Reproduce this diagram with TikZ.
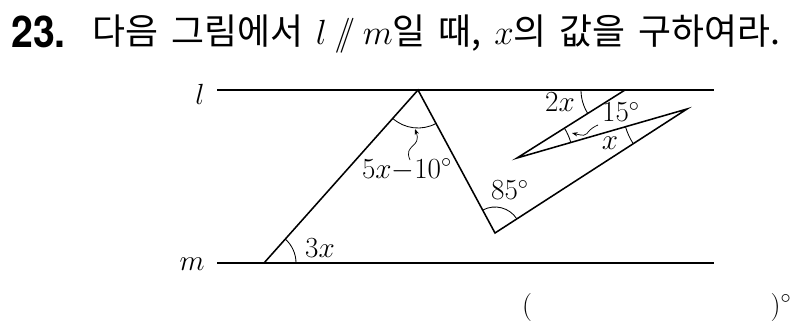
\documentclass[tikz,border=0pt]{standalone}
\usepackage{fontspec}
\usepackage{amsmath}
\newfontfamily\krfont[WordSpace=1.6]{Noto Sans CJK KR}
\newfontfamily\numfont{TeX Gyre Heros}
\usetikzlibrary{arrows.meta,angles,positioning}

\begin{document}
\begin{tikzpicture}[x=0.025cm, y=0.025cm, >={Stealth[length=4pt,width=3pt]},
  lbl/.style={font=\fontsize{20}{24}\selectfont, inner sep=0pt},
  ang/.style={draw, line width=0.6pt},
  seg/.style={line width=1.1pt}]
  \useasboundingbox (0,0) rectangle (800,324);
  % Question
  \node[anchor=base west, inner sep=0pt, font=\numfont\bfseries\fontsize{31}{34}\selectfont] (num) at (11,277) {\scalebox{0.9}[1]{23.}};
  \node[anchor=base west, inner sep=0pt, font=\krfont\fontsize{25.5}{30}\selectfont] (qtext) at (92,280)
    {다음 그림에서 $l\mathbin{/\!\!/}m$일 때, $x$의 값을 구하여라.};
  % Points
  \coordinate (L1) at (217,234); \coordinate (L2) at (714,234);
  \coordinate (M1) at (217,61);  \coordinate (M2) at (714,61);
  \coordinate (A) at (264,61);
  \coordinate (B) at (418,234);
  \coordinate (C) at (495,91);
  \coordinate (D) at (687,215);
  \coordinate (E) at (517,166);
  \coordinate (F) at (625,234);
  % Parallel lines
  \draw[seg] (L1) -- (L2);
  \draw[seg] (M1) -- (M2);
  \node[lbl] (ll) at (200,230) {$l$};
  \node[lbl] (mm) at (192,60) {$m$};
  % Zigzag
  \draw[seg, line join=miter] (A) -- (B) -- (C) -- (D) -- (E) -- (F);
  % Angles
  \pic[ang, angle radius=0.8cm] {angle = M2--A--B};
  \pic[ang, angle radius=0.95cm] {angle = A--B--C};
  \pic[ang, angle radius=0.65cm] {angle = D--C--B};
  \pic[ang, angle radius=1.1cm] {angle = L1--F--E};
  \pic[ang, angle radius=1.4cm] {angle = D--E--F};
  \pic[ang, angle radius=1.6cm] {angle = E--D--C};
  % Labels
  \node[lbl] (a3x) at (320,76) {$3x$};
  \node[lbl] (ab) at (407,154) {$5x{-}10^\circ$};
  \node[lbl] (ac) at (510,134) {$85^\circ$};
  \node[lbl] (af) at (560,222) {$2x$};
  \node[lbl] (ae) at (621,212) {$15^\circ$};
  \node[lbl] (ad) at (610,181) {$x$};
  % Pointers
  \draw[->, line width=0.5pt] (410,164) .. controls (403,180) and (422,176) .. (415,195);
  \draw[->, line width=0.5pt] (598,199) .. controls (582,192) and (592,186) .. (572,191);
  % Answer
  \node[lbl] (lp) at (527,17) {(};
  \node[lbl] (rp) at (781,17) {)$^\circ$};
\end{tikzpicture}
\end{document}
